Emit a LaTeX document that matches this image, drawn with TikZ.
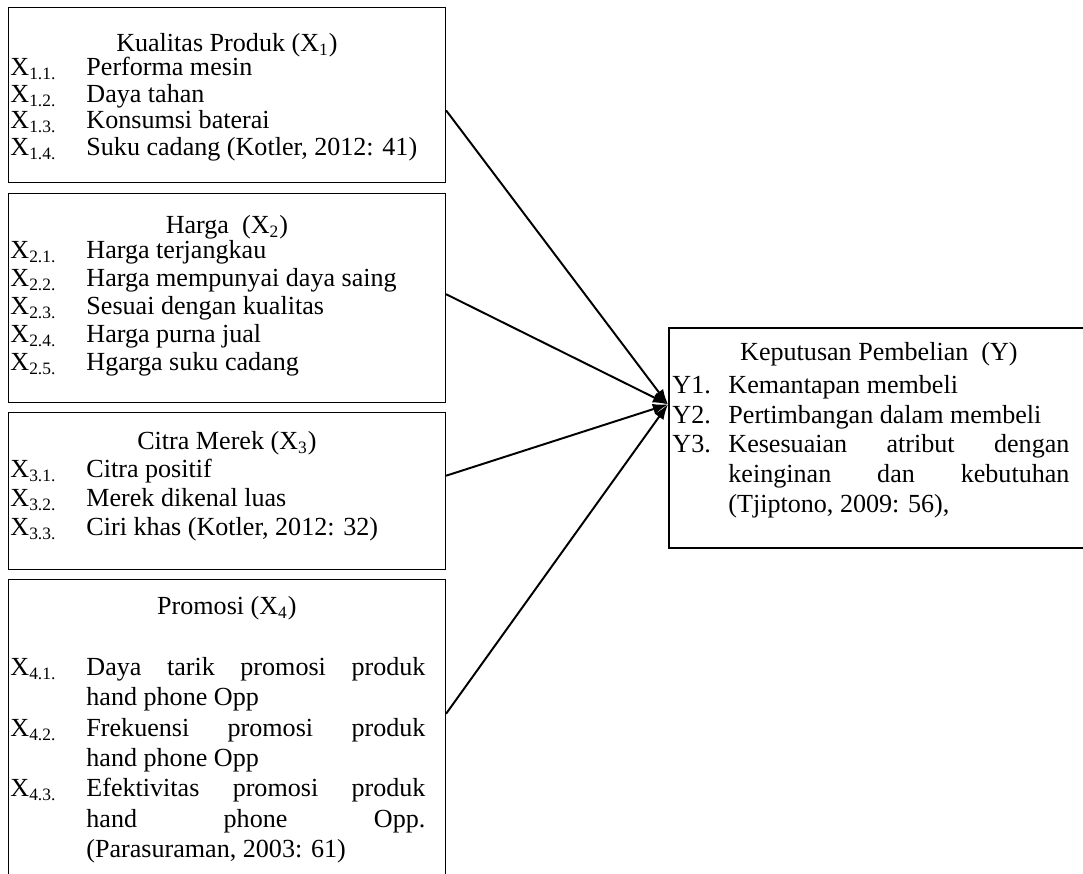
\documentclass[tikz,border=0pt]{standalone}
\usepackage{fontspec}
\setmainfont{Liberation Serif}
\usetikzlibrary{arrows.meta}

% one pixel of the layout
\newlength{\unitpx}\setlength{\unitpx}{0.46pt}
\newlength{\lblw}
\newlength{\rskip}
% title line and indicator line of a box
\newcommand{\ttl}[1]{\centerline{\rule{0pt}{10pt}#1}}
\newcommand{\itm}[2]{\par\hangindent=\lblw\hangafter=1\rightskip=\rskip
  \noindent\makebox[\lblw][l]{#1}#2\par}

\tikzset{
  varbox/.style={draw, line width=0.5pt, anchor=north west, inner sep=0pt},
  vartext/.style={anchor=north west, inner sep=0pt, align=justify,
    font={\fontsize{12}{#1}\selectfont}},
  leftext/.style={vartext=#1, text width=433\unitpx,
    execute at begin node={\setlength{\lblw}{76\unitpx}\setlength{\rskip}{18\unitpx}}},
  ytext/.style={vartext=#1, text width=413\unitpx,
    execute at begin node={\setlength{\lblw}{56\unitpx}\setlength{\rskip}{16\unitpx}}},
}

\begin{document}
\begin{tikzpicture}[x=\unitpx,y=-\unitpx,>={Latex[length=7pt,width=5pt]}]
        \useasboundingbox (0,0) rectangle (1083,874);

        % draw the boxes of the variables
        \node[varbox, minimum width=437\unitpx, minimum height=175\unitpx] (k1) at (8,7) {};
        \node[varbox, minimum width=437\unitpx, minimum height=209\unitpx] (k2) at (8,193) {};
        \node[varbox, minimum width=437\unitpx, minimum height=157\unitpx] (k3) at (8,412) {};
        \node[varbox, minimum width=437\unitpx, minimum height=330\unitpx] (k4) at (8,579) {};
        \node[varbox, line width=0.8pt, minimum width=421\unitpx, minimum height=220\unitpx] (ky) at (668,327) {};

        % texts of the boxes
        \node[leftext=12.28pt] (t1) at (10,29) {%
          \ttl{Kualitas Produk (X\textsubscript{1})}\vspace{-2.4\unitpx}
          \itm{X\textsubscript{1.1.}}{Performa mesin}
          \itm{X\textsubscript{1.2.}}{Daya tahan}
          \itm{X\textsubscript{1.3.}}{Konsumsi baterai}
          \itm{X\textsubscript{1.4.}}{Suku cadang (Kotler, 2012: 41)}};
        \node[leftext=12.88pt] (t2) at (10,211.3) {%
          \ttl{Harga\ \ (X\textsubscript{2})}\vspace{-3\unitpx}
          \itm{X\textsubscript{2.1.}}{Harga terjangkau}
          \itm{X\textsubscript{2.2.}}{Harga mempunyai daya saing}
          \itm{X\textsubscript{2.3.}}{Sesuai dengan kualitas}
          \itm{X\textsubscript{2.4.}}{Harga purna jual}
          \itm{X\textsubscript{2.5.}}{Hgarga suku cadang}};
        \node[leftext=13.34pt] (t3) at (10,427.3) {%
          \ttl{Citra Merek (X\textsubscript{3})}\vspace{-1\unitpx}
          \itm{X\textsubscript{3.1.}}{Citra positif}
          \itm{X\textsubscript{3.2.}}{Merek dikenal luas}
          \itm{X\textsubscript{3.3.}}{Ciri khas (Kotler, 2012: 32)}};
        \node[leftext=13.95pt] (t4) at (10,592.3) {%
          \ttl{Promosi (X\textsubscript{4})}\vspace{30.7\unitpx}
          \itm{X\textsubscript{4.1.}}{Daya tarik promosi produk\linebreak hand phone Opp}
          \itm{X\textsubscript{4.2.}}{Frekuensi promosi produk\linebreak hand phone Opp}
          \itm{X\textsubscript{4.3.}}{Efektivitas promosi produk\linebreak hand phone Opp.\linebreak (Parasuraman, 2003: 61)}};
        \node[ytext=13.69pt] (ty) at (672,338.3) {%
          \ttl{Keputusan Pembelian\ \ (Y)}\vspace{3.25\unitpx}
          \itm{Y1.}{Kemantapan membeli}
          \itm{Y2.}{Pertimbangan dalam membeli}
          \itm{Y3.}{Kesesuaian atribut dengan\linebreak keinginan dan kebutuhan\linebreak (Tjiptono, 2009: 56),}};

        % arrows to the decision box
        \foreach \s/\a in {k1/-4.3, k2/1.2, k3/4.6, k4/8.6}
                \draw[->, line width=0.9pt] (\s.\a) -- (ky.171);
\end{tikzpicture}
\end{document}
